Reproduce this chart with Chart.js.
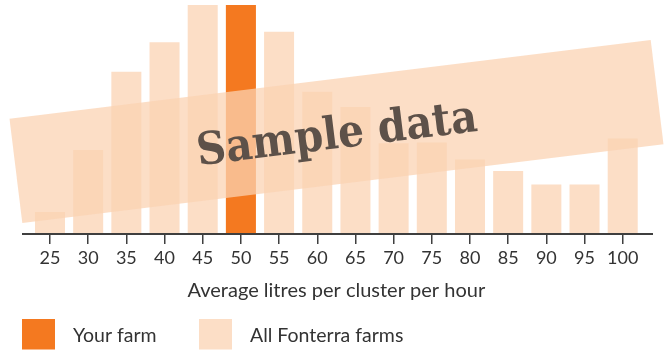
<!DOCTYPE html>
<html>
<head>
<meta charset="utf-8">
<script src="https://cdn.jsdelivr.net/npm/chart.js@4"></script>
<style>
  html, body { margin: 0; padding: 0; background: #fff; }
  #wrap { width: 669px; height: 352px; position: relative; }
</style>
</head>
<body>
<div id="wrap"><canvas id="c" width="669" height="352"></canvas></div>
<script>
// Distribution of farms by average litres per cluster per hour (% of farms)
const categories = ['25','30','35','40','45','50','55','60','65','70','75','80','85','90','95','100'];
const allFarms   = [1.15, 4.4, 8.5, 10.05, 12.0, 12.0, 10.6, 7.45, 6.65, 4.75, 4.8, 3.9, 3.3, 2.6, 2.6, 5.0];
const yourFarm   = [null, null, null, null, null, 12.0, null, null, null, null, null, null, null, null, null, null];
const axisTitle  = 'Average litres per cluster per hour';
const seriesNames = ['Your farm', 'All Fonterra farms'];
const watermarkText = 'Sample data';

const ORANGE = '#F47920';
const PEACH = '#FCDEC6';
const INK = '#333333';
const FONT = 'Lato, "Open Sans", sans-serif';

// Extended baseline across the plot
const baselinePlugin = {
  id: 'baseline',
  afterDraw(chart) {
    const { ctx, chartArea } = chart;
    ctx.save();
    ctx.strokeStyle = '#3f3f3f';
    ctx.lineWidth = 2;
    ctx.beginPath();
    ctx.moveTo(22, chartArea.bottom);
    ctx.lineTo(653, chartArea.bottom);
    ctx.stroke();
    ctx.restore();
  }
};

// Tilted "Sample data" band drawn over the bars
const watermarkPlugin = {
  id: 'watermark',
  afterDatasetsDraw(chart) {
    const { ctx } = chart;
    ctx.save();
    ctx.translate(336.5, 131.5);
    ctx.rotate(-7.0 * Math.PI / 180);
    ctx.fillStyle = 'rgba(251,211,178,0.74)';
    ctx.fillRect(-323, -52.5, 646, 105);
    ctx.fillStyle = '#5d5149';
    ctx.font = 'bold 45px "DejaVu Serif", serif';
    ctx.textAlign = 'center';
    ctx.textBaseline = 'middle';
    ctx.fillText(watermarkText, 0, 5, 282);
    ctx.restore();
  }
};

// Legend with large swatches under the axis title
const swatchLegendPlugin = {
  id: 'swatchLegend',
  afterDraw(chart) {
    const { ctx } = chart;
    const starts = [22, 199];
    ctx.save();
    ctx.font = '19.5px ' + FONT;
    ctx.textBaseline = 'middle';
    ctx.textAlign = 'left';
    chart.data.datasets.forEach((ds, i) => {
      const x = starts[i];
      ctx.fillStyle = ds.backgroundColor;
      ctx.fillRect(x, 319, 33, 30.5);
      ctx.fillStyle = INK;
      ctx.fillText(ds.label, x + 51, 335.5);
    });
    ctx.restore();
  }
};

new Chart(document.getElementById('c'), {
  type: 'bar',
  data: {
    labels: categories,
    datasets: [
      { label: seriesNames[0], data: yourFarm, backgroundColor: ORANGE },
      { label: seriesNames[1], data: allFarms, backgroundColor: PEACH }
    ]
  },
  options: {
    responsive: false,
    animation: false,
    devicePixelRatio: 1,
    layout: { padding: { left: 30.9, right: 27.2, top: 5, bottom: 0 } },
    datasets: { bar: { grouped: false, barPercentage: 0.786, categoryPercentage: 1.0 } },
    plugins: { legend: { display: false }, tooltip: { enabled: false } },
    scales: {
      x: {
        offset: true,
        border: { display: false },
        grid: { drawOnChartArea: false, drawTicks: true, tickLength: 10, color: '#3f3f3f', lineWidth: 1.5, offset: false },
        ticks: { color: INK, font: { family: FONT, size: 18 }, padding: 3, maxRotation: 0, autoSkip: false },
        title: { display: true, text: axisTitle, color: INK, font: { family: FONT, size: 20 }, padding: { top: 0, bottom: 49.5 } },
        afterFit(scale) { scale.height = 118; }
      },
      y: { display: false, min: 0, max: 12 }
    }
  },
  plugins: [baselinePlugin, watermarkPlugin, swatchLegendPlugin]
});
</script>
</body>
</html>
